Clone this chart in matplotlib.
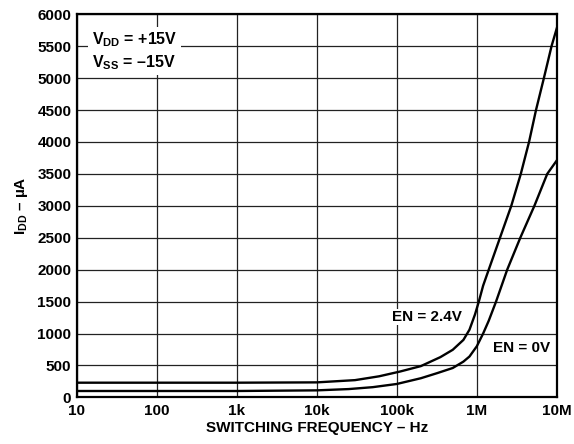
import matplotlib
matplotlib.use("Agg")
import matplotlib.pyplot as plt

# datos
freq_hi = [10, 1e3, 1e4, 3e4, 6e4, 1.1e5, 2e5, 3.5e5, 5e5, 6.8e5, 8.1e5, 9.5e5,
           1.06e6, 1.2e6, 1.41e6, 1.95e6, 2.7e6, 3.55e6, 4.5e6, 5.5e6, 6.9e6, 8.6e6, 1e7]
idd_hi = [230, 230, 235, 270, 330, 405, 490, 630, 745, 900, 1060, 1300,
          1500, 1750, 2000, 2500, 3000, 3500, 4000, 4500, 5000, 5500, 5780]

freq_lo = [10, 1e3, 1e4, 2.5e4, 5e4, 1e5, 2e5, 3.2e5, 5e5, 6.8e5, 8.1e5, 1e6,
           1.2e6, 1.41e6, 1.74e6, 2.4e6, 3.5e6, 5.25e6, 7.6e6, 1e7]
idd_lo = [100, 100, 110, 130, 160, 210, 300, 380, 460, 560, 640, 800,
          1000, 1200, 1500, 2000, 2500, 3000, 3500, 3710]

x_ticks = [10, 100, 1e3, 1e4, 1e5, 1e6, 1e7]
x_labels = ["10", "100", "1k", "10k", "100k", "1M", "10M"]
y_ticks = list(range(0, 6001, 500))

plt.rcParams["font.family"] = ["Liberation Sans", "DejaVu Sans"]
plt.rcParams["font.weight"] = "bold"
plt.rcParams["mathtext.fontset"] = "custom"
plt.rcParams["mathtext.rm"] = "Liberation Sans:bold"
plt.rcParams["mathtext.it"] = "Liberation Sans:bold"
plt.rcParams["mathtext.bf"] = "Liberation Sans:bold"

fig = plt.figure(figsize=(5.74, 4.44), dpi=100)
ax = fig.add_axes([0.134, 0.105, 0.836, 0.863])

ax.plot(freq_hi, idd_hi, color="black", lw=1.7, zorder=3)
ax.plot(freq_lo, idd_lo, color="black", lw=1.7, zorder=3)

ax.set_xscale("log")
ax.set_xlim(10, 1e7)
ax.set_ylim(0, 6000)
ax.set_xticks(x_ticks)
ax.set_xticklabels(x_labels)
ax.xaxis.set_minor_locator(matplotlib.ticker.NullLocator())
ax.set_yticks(y_ticks)
ax.tick_params(length=0, labelsize=11)
ax.tick_params(axis="x", pad=5)
ax.tick_params(axis="y", pad=4)
for lab in ax.get_xticklabels() + ax.get_yticklabels():
    lab.set_fontweight("bold")

ax.grid(True, color="#222222", lw=0.9)
ax.set_axisbelow(True)
for s in ax.spines.values():
    s.set_linewidth(1.6)

ax.set_xlabel("SWITCHING FREQUENCY – Hz", fontsize=11, fontweight="bold", labelpad=2)
ax.set_ylabel(r"I$_{\mathrm{DD}}$ – µA", fontsize=11, fontweight="bold", labelpad=5)

ax.text(0.031, 0.958, "V$_{\\mathrm{DD}}$ = +15V\nV$_{\\mathrm{SS}}$ = –15V",
        transform=ax.transAxes, fontsize=11.5, fontweight="bold", va="top", ha="left",
        linespacing=1.3, zorder=4,
        bbox=dict(facecolor="white", edgecolor="none", pad=2.5))

ax.text(2.4e5, 1260, "EN = 2.4V", fontsize=11, fontweight="bold", ha="center", va="center",
        zorder=4, bbox=dict(facecolor="white", edgecolor="none", pad=1))
ax.text(3.65e6, 780, "EN = 0V", fontsize=11, fontweight="bold", ha="center", va="center",
        zorder=4, bbox=dict(facecolor="white", edgecolor="none", pad=1))

fig.savefig("out.png", dpi=100)
